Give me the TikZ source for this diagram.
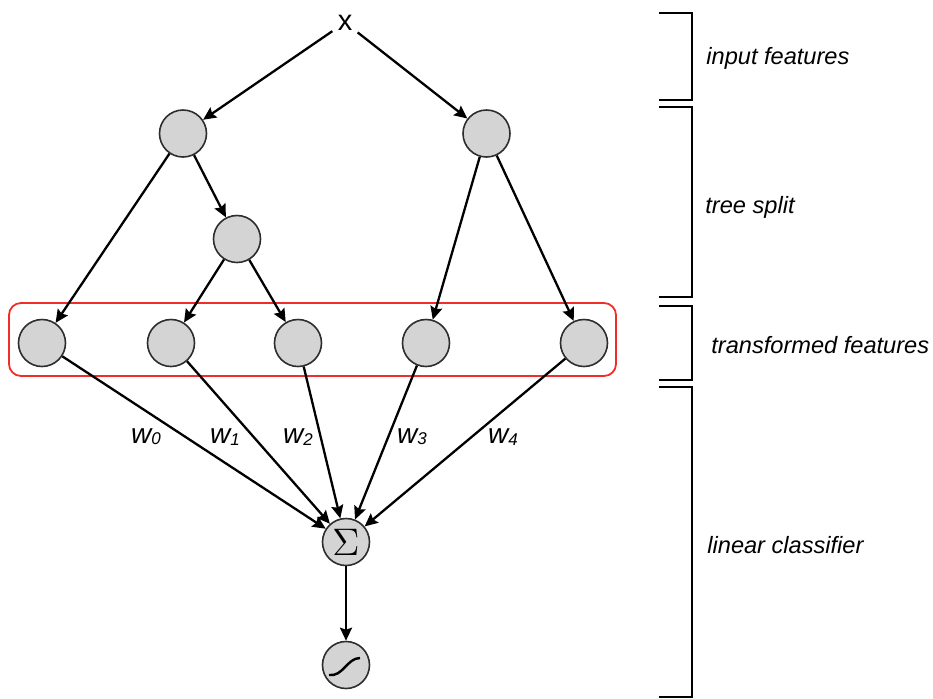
\documentclass[tikz,border=0pt]{standalone}
\usepackage{fontspec}
\setmainfont{Liberation Sans}
\usetikzlibrary{arrows.meta}
\definecolor{boxred}{RGB}{240,45,40}
\definecolor{nodefill}{RGB}{212,212,212}
\definecolor{nodeline}{RGB}{45,45,45}
\newcommand{\wlab}[1]{w\raisebox{-0.6pt}{\fontsize{8.5}{8.5}\selectfont #1}}
\begin{document}
\begin{tikzpicture}[x=0.5pt,y=-0.5pt,
  neuron/.style={circle, draw=nodeline, fill=nodefill, line width=0.8pt, minimum size=23.5pt, inner sep=0pt},
  conn/.style={-{Stealth[length=6.5pt,width=6pt,inset=1pt]}, line width=1.15pt},
  bracket/.style={line width=1.25pt},
  sidelabel/.style={anchor=west, font=\fontsize{11.8}{14}\selectfont\itshape, inner sep=0pt},
  wlabel/.style={font=\fontsize{14}{14}\selectfont\itshape, inner sep=0pt}
]
\useasboundingbox (0,0) rectangle (933,698);

% input
\node[font=\fontsize{14.5}{14.5}\selectfont, inner sep=2.5pt] (x) at (345,22.5) {x};

% tree nodes
\node[neuron] (a) at (183,133.5) {};
\node[neuron] (b) at (486.5,133.5) {};
\node[neuron] (c) at (237,239) {};

% leaves
\node[neuron] (l0) at (42,343) {};
\node[neuron] (l1) at (171,343) {};
\node[neuron] (l2) at (298,343) {};
\node[neuron] (l3) at (426,343) {};
\node[neuron] (l4) at (584,343) {};

% red box
\draw[boxred, line width=0.9pt, rounded corners=6pt] (9,303) rectangle (616,376);

% classifier
\node[neuron] (s) at (346,542) {\scalebox{1.6}{\fontsize{12}{12}\selectfont$\Sigma$}};
\node[neuron] (g) at (346,665) {};
\draw[line width=1.2pt, shift={(g.center)}] (-17,10) .. controls (-3,12) and (1,-7) .. (14,-7);

% connectors
\draw[conn] (x) -- (a);
\draw[conn] (x) -- (b);
\draw[conn] (a) -- (l0);
\draw[conn] (a) -- (c);
\draw[conn] (c) -- (l1);
\draw[conn] (c) -- (l2);
\draw[conn] (b) -- (l3);
\draw[conn] (b) -- (l4);
\draw[conn] (l0) -- (s);
\draw[conn] (l1) -- (s);
\draw[conn] (l2) -- (s);
\draw[conn] (l3) -- (s);
\draw[conn] (l4) -- (s);
\draw[conn] (s) -- (g);

% weight labels
\node[wlabel] (w0) at (146,437) {\wlab{0}};
\node[wlabel] (w1) at (225,437) {\wlab{1}};
\node[wlabel] (w2) at (298,437) {\wlab{2}};
\node[wlabel] (w3) at (412,437) {\wlab{3}};
\node[wlabel] (w4) at (503,437) {\wlab{4}};

% brackets
\draw[bracket] (659,13) -- (692,13) -- (692,100) -- (659,100);
\draw[bracket] (659,107) -- (692,107) -- (692,297) -- (659,297);
\draw[bracket] (659,306) -- (692,306) -- (692,380) -- (659,380);
\draw[bracket] (659,387) -- (692,387) -- (692,697) -- (659,697);

% side labels
\node[sidelabel] (t1) at (706,58) {input features};
\node[sidelabel] (t2) at (705,207) {tree split};
\node[sidelabel] (t3) at (711,345) {transformed features};
\node[sidelabel] (t4) at (707,545) {linear classifier};
\end{tikzpicture}
\end{document}
